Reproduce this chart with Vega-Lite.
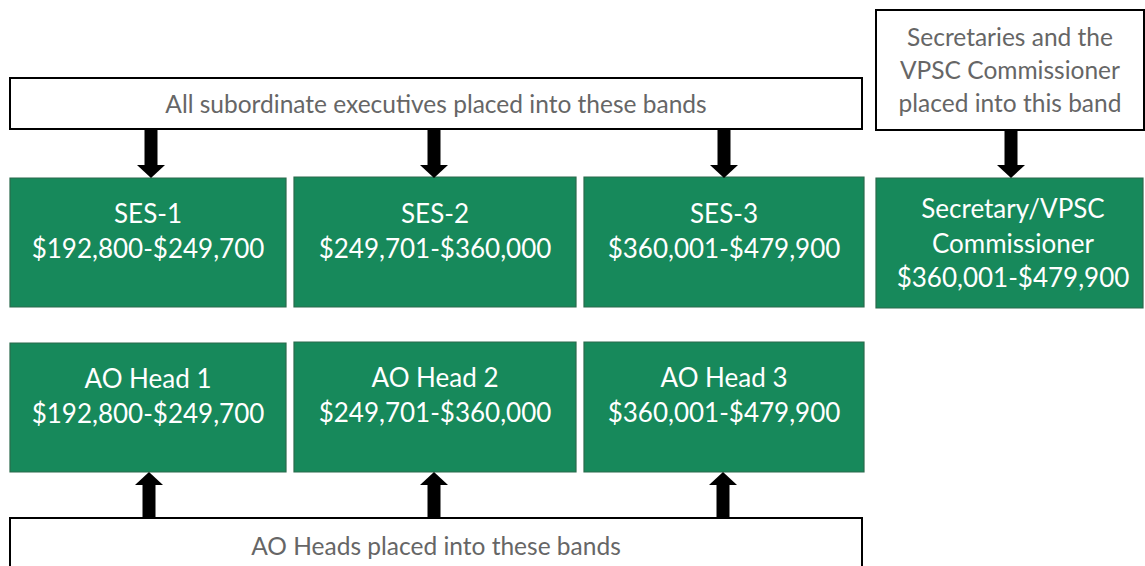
{
  "$schema": "https://vega.github.io/schema/vega-lite/v6.json",
  "width": 1145,
  "height": 566,
  "padding": 0,
  "autosize": {"type": "none"},
  "background": "white",
  "config": {"view": {"stroke": null}},
  "datasets": {
    "whiteBoxes": [
      {"x0": 10, "x1": 862, "y0": 78, "y1": 129},
      {"x0": 876, "x1": 1144, "y0": 10, "y1": 130},
      {"x0": 10, "x1": 862, "y0": 518, "y1": 590}
    ],
    "greenBoxes": [
      {"x0": 10, "x1": 286, "y0": 178, "y1": 307, "cx": 148, "ty": 215, "label": ["SES-1", "$192,800-$249,700"]},
      {"x0": 294, "x1": 576, "y0": 177, "y1": 307, "cx": 435, "ty": 215, "label": ["SES-2", "$249,701-$360,000"]},
      {"x0": 584, "x1": 864, "y0": 177, "y1": 307, "cx": 724, "ty": 215, "label": ["SES-3", "$360,001-$479,900"]},
      {"x0": 876, "x1": 1143, "y0": 178, "y1": 308, "cx": 1013, "ty": 210, "label": ["Secretary/VPSC", "Commissioner", "$360,001-$479,900"]},
      {"x0": 10, "x1": 286, "y0": 343, "y1": 472, "cx": 148, "ty": 380, "label": ["AO Head 1", "$192,800-$249,700"]},
      {"x0": 294, "x1": 576, "y0": 342, "y1": 472, "cx": 435, "ty": 379, "label": ["AO Head 2", "$249,701-$360,000"]},
      {"x0": 584, "x1": 864, "y0": 342, "y1": 472, "cx": 724, "ty": 379, "label": ["AO Head 3", "$360,001-$479,900"]}
    ],
    "arrows": [
      {"cx": 151, "s0": 129, "s1": 167, "hy": 171.5, "rot": 0},
      {"cx": 434, "s0": 129, "s1": 167, "hy": 171.5, "rot": 0},
      {"cx": 724, "s0": 129, "s1": 167, "hy": 171.5, "rot": 0},
      {"cx": 1011, "s0": 130, "s1": 167, "hy": 171.5, "rot": 0},
      {"cx": 149, "s0": 484, "s1": 518, "hy": 478.5, "rot": 180},
      {"cx": 434, "s0": 484, "s1": 518, "hy": 478.5, "rot": 180},
      {"cx": 723, "s0": 484, "s1": 518, "hy": 478.5, "rot": 180}
    ],
    "grayText": [
      {"cx": 436, "cy": 106, "label": ["All subordinate executives placed into these bands"]},
      {"cx": 1010, "cy": 39, "label": ["Secretaries and the", "VPSC Commissioner", "placed into this band"]},
      {"cx": 436, "cy": 548, "label": ["AO Heads placed into these bands"]}
    ]
  },
  "layer": [
    {
      "data": {"name": "whiteBoxes"},
      "mark": {"type": "rect", "fill": "white", "stroke": "#000000", "strokeWidth": 2, "clip": true},
      "encoding": {
        "x": {"field": "x0", "type": "quantitative", "scale": {"domain": [0, 1145], "nice": false, "zero": false}, "axis": null},
        "x2": {"field": "x1"},
        "y": {"field": "y0", "type": "quantitative", "scale": {"domain": [0, 566], "nice": false, "zero": false, "reverse": true}, "axis": null},
        "y2": {"field": "y1"}
      }
    },
    {
      "data": {"name": "greenBoxes"},
      "mark": {"type": "rect", "fill": "#17895B", "stroke": "#2A6B4C", "strokeWidth": 1.2},
      "encoding": {
        "x": {"field": "x0", "type": "quantitative"},
        "x2": {"field": "x1"},
        "y": {"field": "y0", "type": "quantitative"},
        "y2": {"field": "y1"}
      }
    },
    {
      "data": {"name": "arrows"},
      "mark": {"type": "rule", "stroke": "#000000", "strokeWidth": 13, "strokeCap": "butt"},
      "encoding": {
        "x": {"field": "cx", "type": "quantitative"},
        "y": {"field": "s0", "type": "quantitative"},
        "y2": {"field": "s1"}
      }
    },
    {
      "data": {"name": "arrows"},
      "mark": {"type": "point", "filled": true, "fill": "#000000", "opacity": 1, "shape": "M-1,-0.46L1,-0.46L0,0.46Z", "size": 784, "strokeWidth": 0},
      "encoding": {
        "x": {"field": "cx", "type": "quantitative"},
        "y": {"field": "hy", "type": "quantitative"},
        "angle": {"field": "rot", "type": "quantitative", "scale": null}
      }
    },
    {
      "data": {"name": "grayText"},
      "mark": {"type": "text", "font": "Lato", "fontSize": 24.5, "color": "#666666", "align": "center", "baseline": "middle", "lineHeight": 33},
      "encoding": {
        "x": {"field": "cx", "type": "quantitative"},
        "y": {"field": "cy", "type": "quantitative"},
        "text": {"field": "label"}
      }
    },
    {
      "data": {"name": "greenBoxes"},
      "mark": {"type": "text", "font": "Lato", "fontSize": 26, "color": "#ffffff", "align": "center", "baseline": "middle", "lineHeight": 34.5},
      "encoding": {
        "x": {"field": "cx", "type": "quantitative"},
        "y": {"field": "ty", "type": "quantitative"},
        "text": {"field": "label"}
      }
    }
  ]
}
